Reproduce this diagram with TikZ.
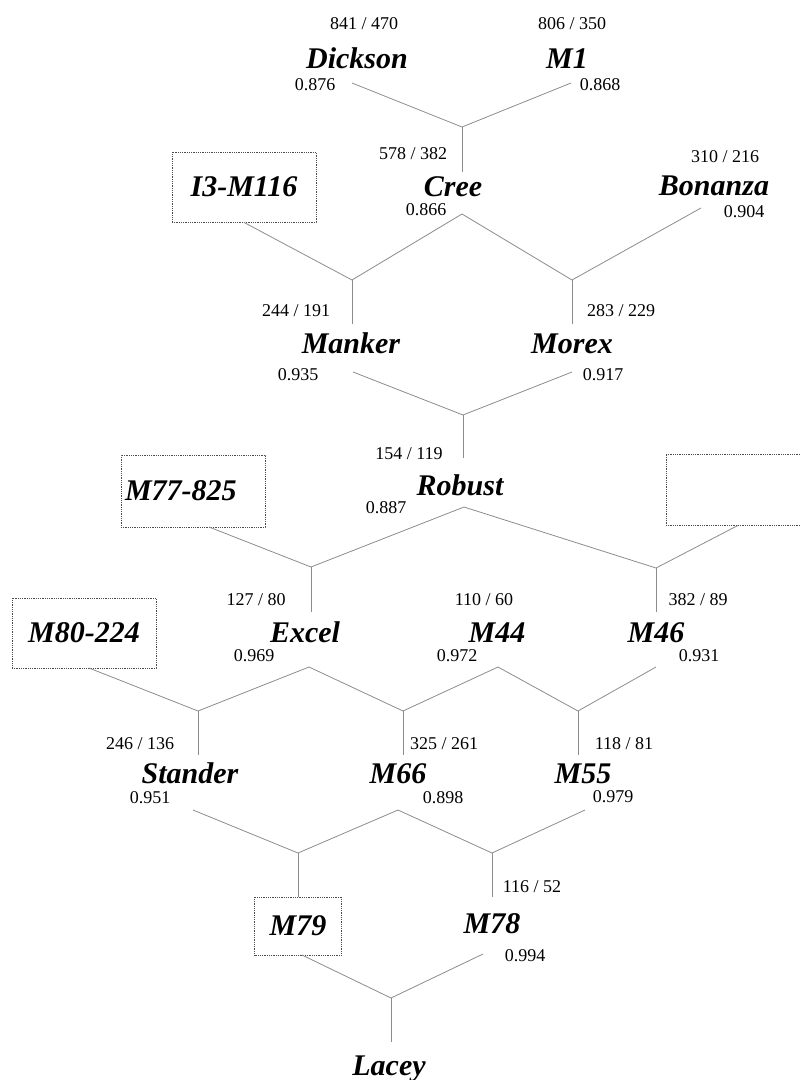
\documentclass[tikz,border=0pt]{standalone}
\usepackage{fontspec}
\setmainfont{Liberation Serif}
\begin{document}
\begin{tikzpicture}[x=1pt, y=-1pt,
    taxon/.style={anchor=base, inner sep=0pt, font=\fontsize{30}{30}\selectfont\bfseries\itshape},
    score/.style={anchor=base, inner sep=0pt, font=\fontsize{18}{18}\selectfont},
    boxed/.style={draw=black!70, densely dotted, line width=0.8pt, inner sep=0pt,
        minimum width=144pt, minimum height=70pt, font=\fontsize{30}{30}\selectfont\bfseries\itshape},
    branch/.style={draw=black!45, line width=0.8pt}]

    \useasboundingbox (0,0) rectangle (800,1080);

    % Draw the founders
    \node[score] (dickson-n) at (364, 29) {841 / 470};
    \node[taxon] (dickson) at (357, 68) {Dickson};
    \node[score] (dickson-r) at (315, 90) {0.876};
    \node[score] (m1-n) at (572, 29) {806 / 350};
    \node[taxon] (m1) at (567, 68) {M1};
    \node[score] (m1-r) at (600, 90) {0.868};

    % Draw Cree and its row
    \node[boxed] (i3m116) at (244, 187) {I3-M116};
    \node[score] (cree-n) at (413, 159) {578 / 382};
    \node[taxon] (cree) at (453, 196) {Cree};
    \node[score] (cree-r) at (426, 215) {0.866};
    \node[score] (bonanza-n) at (725, 162) {310 / 216};
    \node[taxon] (bonanza) at (714, 195) {Bonanza};
    \node[score] (bonanza-r) at (744, 217) {0.904};

    % Draw Manker and Morex
    \node[score] (manker-n) at (296, 316) {244 / 191};
    \node[taxon] (manker) at (351, 353) {Manker};
    \node[score] (manker-r) at (298, 380) {0.935};
    \node[score] (morex-n) at (621, 316) {283 / 229};
    \node[taxon] (morex) at (572, 353) {Morex};
    \node[score] (morex-r) at (603, 380) {0.917};

    % Draw Robust and its row
    \node[boxed, text width=136pt, inner xsep=4pt, align=left, minimum height=72pt] (m77) at (193, 491) {M77-825};
    \node[score] (robust-n) at (409, 459) {154 / 119};
    \node[taxon] (robust) at (460, 495) {Robust};
    \node[score] (robust-r) at (386, 513) {0.887};
    \node[boxed, minimum height=71pt] (blank) at (738, 489.5) {};

    % Draw Excel, M44 and M46
    \node[boxed] (m80) at (84, 633) {M80-224};
    \node[score] (excel-n) at (256, 605) {127 / 80};
    \node[taxon] (excel) at (305, 642) {Excel};
    \node[score] (excel-r) at (254, 661) {0.969};
    \node[score] (m44-n) at (484, 605) {110 / 60};
    \node[taxon] (m44) at (497, 642) {M44};
    \node[score] (m44-r) at (457, 661) {0.972};
    \node[score] (m46-n) at (698, 605) {382 / 89};
    \node[taxon] (m46) at (656, 642) {M46};
    \node[score] (m46-r) at (699, 661) {0.931};

    % Draw Stander, M66 and M55
    \node[score] (stander-n) at (140, 749) {246 / 136};
    \node[taxon] (stander) at (190, 783) {Stander};
    \node[score] (stander-r) at (150, 803) {0.951};
    \node[score] (m66-n) at (444, 749) {325 / 261};
    \node[taxon] (m66) at (398, 783) {M66};
    \node[score] (m66-r) at (443, 803) {0.898};
    \node[score] (m55-n) at (624, 749) {118 / 81};
    \node[taxon] (m55) at (583, 783) {M55};
    \node[score] (m55-r) at (613, 802) {0.979};

    % Draw M79, M78 and Lacey
    \node[boxed, minimum width=87pt, minimum height=58pt] (m79) at (298, 926) {M79};
    \node[score] (m78-n) at (532, 892) {116 / 52};
    \node[taxon] (m78) at (492, 933) {M78};
    \node[score] (m78-r) at (525, 961) {0.994};
    \node[taxon] (lacey) at (389, 1075) {Lacey};

    % Branch ends and junctions
    \coordinate (dickson-b) at (352, 83);
    \coordinate (m1-b) at (571, 83);
    \coordinate (j-cree) at (462, 127);
    \coordinate (cree-t) at (462, 172);
    \coordinate (cree-b) at (462, 214);
    \coordinate (bonanza-b) at (701, 208);
    \coordinate (j-manker) at (352, 280);
    \coordinate (j-morex) at (572, 280);
    \coordinate (manker-t) at (352, 324);
    \coordinate (morex-t) at (572, 324);
    \coordinate (manker-b) at (353, 372);
    \coordinate (morex-b) at (572, 372);
    \coordinate (j-robust) at (463, 415);
    \coordinate (robust-t) at (463, 458);
    \coordinate (robust-b) at (464, 507);
    \coordinate (m77-b) at (209, 527);
    \coordinate (j-excel) at (311, 567);
    \coordinate (j-m46) at (656, 568);
    \coordinate (excel-t) at (311, 612);
    \coordinate (m46-t) at (656, 612);
    \coordinate (m80-b) at (89, 668);
    \coordinate (excel-b) at (309, 667);
    \coordinate (m44-b) at (498, 667);
    \coordinate (m46-b) at (656, 667);
    \coordinate (j-stander) at (198, 711);
    \coordinate (j-m66) at (403, 711);
    \coordinate (j-m55) at (578, 711);
    \coordinate (stander-t) at (198, 755);
    \coordinate (m66-t) at (403, 755);
    \coordinate (m55-t) at (578, 755);
    \coordinate (stander-b) at (193, 810);
    \coordinate (m66-b) at (398, 810);
    \coordinate (m55-b) at (585, 810);
    \coordinate (j-m79) at (298, 853);
    \coordinate (j-m78) at (492, 853);
    \coordinate (m78-t) at (492, 897);
    \coordinate (m79-b) at (302, 955);
    \coordinate (m78-b) at (483, 954);
    \coordinate (j-lacey) at (391, 998);
    \coordinate (lacey-t) at (391, 1042);

    % Draw connections
    \draw[branch] (dickson-b) -- (j-cree) -- (m1-b);
    \draw[branch] (j-cree) -- (cree-t);
    \draw[branch] (i3m116.south) -- (j-manker) -- (cree-b) -- (j-morex) -- (bonanza-b);
    \draw[branch] (j-manker) -- (manker-t);
    \draw[branch] (j-morex) -- (morex-t);
    \draw[branch] (manker-b) -- (j-robust) -- (morex-b);
    \draw[branch] (j-robust) -- (robust-t);
    \draw[branch] (m77-b) -- (j-excel) -- (robust-b) -- (j-m46) -- (blank.south);
    \draw[branch] (j-excel) -- (excel-t);
    \draw[branch] (j-m46) -- (m46-t);
    \draw[branch] (m80-b) -- (j-stander) -- (excel-b) -- (j-m66) -- (m44-b) -- (j-m55) -- (m46-b);
    \draw[branch] (j-stander) -- (stander-t);
    \draw[branch] (j-m66) -- (m66-t);
    \draw[branch] (j-m55) -- (m55-t);
    \draw[branch] (stander-b) -- (j-m79) -- (m66-b) -- (j-m78) -- (m55-b);
    \draw[branch] (j-m79) -- (m79.north);
    \draw[branch] (j-m78) -- (m78-t);
    \draw[branch] (m79-b) -- (j-lacey) -- (m78-b);
    \draw[branch] (j-lacey) -- (lacey-t);

\end{tikzpicture}
\end{document}
